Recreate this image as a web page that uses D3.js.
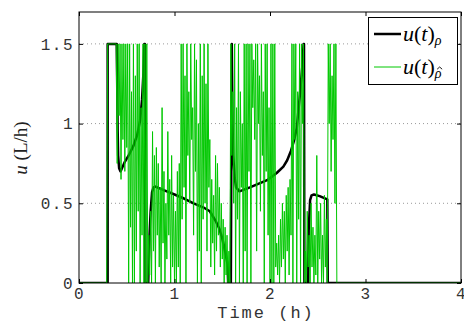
<!DOCTYPE html>
<html>
<head>
<meta charset="utf-8">
<script src="https://cdn.jsdelivr.net/npm/d3@7/dist/d3.min.js"></script>
<style>
  html, body { margin: 0; padding: 0; background: #fff; }
  svg { display: block; }
</style>
</head>
<body>
<svg id="chart" width="464" height="323"></svg>
<script>
// Axis ticks
const xTicks = [0, 1, 2, 3, 4];
const yTicks = [0, 0.5, 1, 1.5];
const yTickLabels = ["0", "0.5", "1", "1.5"];
const yGrid = [0.5, 1, 1.5];

// u(t)_rho : pump flow driven by the true density (h, L/h)
const rhoTime = [0, 0.30, 0.30, 0.395, 0.40, 0.405, 0.41, 0.42, 0.435, 0.45, 0.48, 0.52, 0.57, 0.61, 0.64, 0.66, 0.675, 0.685, 0.69, 0.695,
  0.725, 0.735, 0.75, 0.765, 0.78, 0.80, 0.90, 1.00, 1.10, 1.20, 1.30, 1.37, 1.43, 1.47, 1.50, 1.53, 1.555, 1.562, 1.59,
  1.60, 1.607, 1.615, 1.63, 1.645, 1.68, 1.79, 1.97, 2.07, 2.14, 2.18, 2.22, 2.25, 2.28, 2.31, 2.34, 2.352, 2.356, 2.36,
  2.40, 2.405, 2.42, 2.435, 2.46, 2.52, 2.60, 2.605, 4];
const rhoFlow = [0, 0, 1.5, 1.5, 1.25, 0.95, 0.8, 0.72, 0.70, 0.72, 0.76, 0.80, 0.86, 0.93, 1.02, 1.15, 1.32, 1.5, 1.5, 0,
  0, 0.25, 0.45, 0.57, 0.60, 0.605, 0.58, 0.555, 0.53, 0.50, 0.475, 0.45, 0.39, 0.34, 0.28, 0.20, 0.12, 0, 0,
  1.5, 1.0, 0.8, 0.66, 0.60, 0.575, 0.60, 0.645, 0.69, 0.73, 0.77, 0.83, 0.89, 0.97, 1.16, 1.37, 1.5, 1.5, 0,
  0, 0.33, 0.52, 0.55, 0.555, 0.545, 0.525, 0, 0];

// u(t)_rho-hat : pump flow driven by the estimated density, one sample every 0.01 h from 0.30 h to 2.70 h
const hatStart = 0.30;
const hatStep = 0.01;
const hatFlow = [
  1.5, 1.5, 1.5, 1.5, 1.5, 1.5, 1.5, 1.5, 1.5, 1.5,
  0.75, 1.5, 1.05, 1.5, 0.65, 1.5, 0.9, 1.5, 0.7, 1.5,
  0.85, 1.5, 0, 1.5, 0.35, 1.2, 0, 1.5, 0, 1.3,
  0.2, 1.5, 0.45, 1.5, 0, 1.1, 0.3, 1.5, 0, 1.5,
  0, 1.5, 0, 0.3, 0.05, 0.45, 0, 0.95, 0.2, 0.8,
  0, 0.85, 0.3, 0.75, 0.1, 0.6, 0, 1.1, 0.25, 0.7,
  0, 0.5, 0.15, 0.95, 0.3, 0.65, 0, 0.8, 0.1, 0.55,
  0, 0.45, 0, 0.7, 0.1, 0.75, 0, 1.5, 0.4, 1.5,
  0.6, 1.3, 0, 1.5, 0.8, 1.2, 0.5, 1.5, 0.9, 1.1,
  0.3, 1.5, 0.7, 1.4, 0, 1.0, 0.2, 1.5, 0, 1.3,
  0.4, 1.5, 0.5, 1.25, 0.2, 1.5, 0.6, 0.9, 0.1, 0.65,
  0.25, 0.55, 0.05, 0.8, 0.2, 0.75, 0.3, 0.6, 0.1, 0.5,
  0.15, 0.4, 0, 0.35, 0.05, 0.3, 0, 0.2, 0, 1.5,
  0.8, 1.2, 0.5, 1.5, 0, 1.1, 0.4, 1.5, 0, 1.2,
  0.6, 1.0, 0, 1.5, 0.2, 1.5, 0, 1.5, 0.7, 1.5,
  0, 1.5, 1.1, 1.4, 0.9, 1.5, 0.2, 1.5, 1.0, 1.3,
  0.45, 1.5, 0.8, 1.2, 0, 1.5, 0.7, 1.5, 0.3, 1.1,
  0, 1.5, 0, 1.5, 0, 1.5, 0.1, 0.25, 0.05, 0.3,
  0, 0.4, 0.1, 0.5, 0.15, 0.45, 0, 0.55, 0.2, 0.6,
  0.05, 0.65, 0.3, 1.5, 0, 1.5, 0.9, 1.5, 0, 1.2,
  0.4, 1.5, 0, 1.5, 1.0, 1.5, 0, 0.2, 0, 0.45,
  0.1, 0.3, 0, 0.5, 0.1, 0.35, 0, 0.3, 0.05, 0.8,
  0, 0.45, 0.15, 0.5, 0, 0.3, 0, 0.55, 0.1, 0.4,
  0, 1.5, 1.0, 1.5, 0.7, 1.3, 0.9, 1.5, 0.5, 1.5,
  0
];

const seriesNames = ["rho", "rhoHat"];

// ---- layout ----
const svg = d3.select("#chart");
const frame = { left: 79, right: 461, top: 12, bottom: 283 };
const x = d3.scaleLinear().domain([0, 4]).range([frame.left, frame.right]);
const y = d3.scaleLinear().domain([0, 1.7]).range([frame.bottom, frame.top]);

const monoFont = "'Liberation Mono', 'DejaVu Sans Mono', monospace";
const serifFont = "'Liberation Serif', 'DejaVu Serif', serif";

// clip to plot area
svg.append("defs").append("clipPath").attr("id", "plotClip")
  .append("rect")
  .attr("x", frame.left).attr("y", frame.top)
  .attr("width", frame.right - frame.left).attr("height", frame.bottom - frame.top);

// dotted horizontal grid
svg.append("g").selectAll("line").data(yGrid).join("line")
  .attr("x1", frame.left).attr("x2", frame.right)
  .attr("y1", d => y(d)).attr("y2", d => y(d))
  .attr("stroke", "#9a9a9a").attr("stroke-width", 1)
  .attr("stroke-dasharray", "1,3");

// series
const rhoData = rhoTime.map((t, i) => [t, rhoFlow[i]]);
const hatData = [[0, 0], [hatStart - hatStep, 0]]
  .concat(hatFlow.map((v, i) => [hatStart + i * hatStep, v]))
  .concat([[4, 0]]);

const line = d3.line().x(d => x(d[0])).y(d => y(d[1]));
const plot = svg.append("g").attr("clip-path", "url(#plotClip)");

plot.append("path").datum(rhoData)
  .attr("fill", "none").attr("stroke", "#000").attr("stroke-width", 2.5)
  .attr("stroke-linejoin", "round")
  .attr("d", line);

plot.append("path").datum(hatData)
  .attr("fill", "none").attr("stroke", "rgb(0,200,0)").attr("stroke-width", 1)
  .attr("d", line);

// axes (ticks pointing inward, mirrored on top and right)
const tickLen = 4;
const axisBottom = svg.append("g").attr("transform", `translate(0,${frame.bottom})`)
  .call(d3.axisBottom(x).tickValues(xTicks).tickSize(-tickLen).tickPadding(5).tickFormat(d3.format("d")));
const axisTop = svg.append("g").attr("transform", `translate(0,${frame.top})`)
  .call(d3.axisTop(x).tickValues(xTicks).tickSize(-tickLen).tickFormat(""));
const axisLeft = svg.append("g").attr("transform", `translate(${frame.left},0)`)
  .call(d3.axisLeft(y).tickValues(yTicks).tickSize(-tickLen).tickPadding(8)
    .tickFormat((d, i) => yTickLabels[i]));
const axisRight = svg.append("g").attr("transform", `translate(${frame.right},0)`)
  .call(d3.axisRight(y).tickValues(yTicks).tickSize(-tickLen).tickFormat(""));

[axisBottom, axisTop, axisLeft, axisRight].forEach(g => {
  g.select(".domain").remove();
  g.selectAll(".tick line").attr("stroke", "#000").attr("stroke-width", 1);
});
[axisBottom, axisLeft].forEach(g => {
  g.selectAll(".tick text")
    .attr("fill", "#333")
    .attr("font-family", monoFont)
    .attr("font-size", 16)
    .attr("letter-spacing", 1.5);
});
axisLeft.selectAll(".tick text").attr("dx", 3);

// plot frame
svg.append("rect")
  .attr("x", frame.left).attr("y", frame.top)
  .attr("width", frame.right - frame.left).attr("height", frame.bottom - frame.top)
  .attr("fill", "none").attr("stroke", "#000").attr("stroke-width", 1);

// axis titles
svg.append("text")
  .attr("x", (frame.left + frame.right) / 2 - 4).attr("y", 318)
  .attr("text-anchor", "middle")
  .attr("font-family", monoFont).attr("font-size", 17).attr("fill", "#333")
  .attr("letter-spacing", 2)
  .text("Time (h)");

const yTitle = svg.append("text")
  .attr("transform", "translate(27,148) rotate(-90)")
  .attr("text-anchor", "middle")
  .attr("font-family", serifFont).attr("font-size", 19).attr("fill", "#222");
yTitle.append("tspan").attr("font-style", "italic").text("u");
yTitle.append("tspan").text(" (L/h)");

// legend
const legend = svg.append("g");
legend.append("rect")
  .attr("x", 368.5).attr("y", 17.5).attr("width", 89).attr("height", 67)
  .attr("fill", "#fff").attr("stroke", "#000").attr("stroke-width", 1);

const legendItems = [
  { name: seriesNames[0], color: "#000", width: 2.5, hat: false, ly: 34 },
  { name: seriesNames[1], color: "rgb(0,200,0)", width: 1, hat: true, ly: 67 }
];
legendItems.forEach(item => {
  legend.append("line")
    .attr("x1", 374).attr("x2", 401).attr("y1", item.ly).attr("y2", item.ly)
    .attr("stroke", item.color).attr("stroke-width", item.width);
  const t = legend.append("text")
    .attr("x", 403).attr("y", item.ly + 7)
    .attr("font-family", serifFont).attr("font-size", 22).attr("fill", "#000");
  t.append("tspan").attr("font-style", "italic").text("u");
  t.append("tspan").text("(");
  t.append("tspan").attr("font-style", "italic").text("t");
  t.append("tspan").text(")");
  t.append("tspan").attr("font-style", "italic").attr("font-size", 14).attr("dy", 4).text("ρ");
  if (item.hat) {
    // small circumflex accent drawn over the subscript
    const node = t.node();
    const n = node.getNumberOfChars();
    const p0 = node.getStartPositionOfChar(n - 1);
    const p1 = node.getEndPositionOfChar(n - 1);
    const cx = (p0.x + p1.x) / 2 + 1.5;
    const cy = p0.y - 11;
    legend.append("path")
      .attr("d", `M${cx - 2.5},${cy + 2.2}L${cx},${cy}L${cx + 2.5},${cy + 2.2}`)
      .attr("fill", "none").attr("stroke", "#000").attr("stroke-width", 0.9);
  }
});
</script>
</body>
</html>
